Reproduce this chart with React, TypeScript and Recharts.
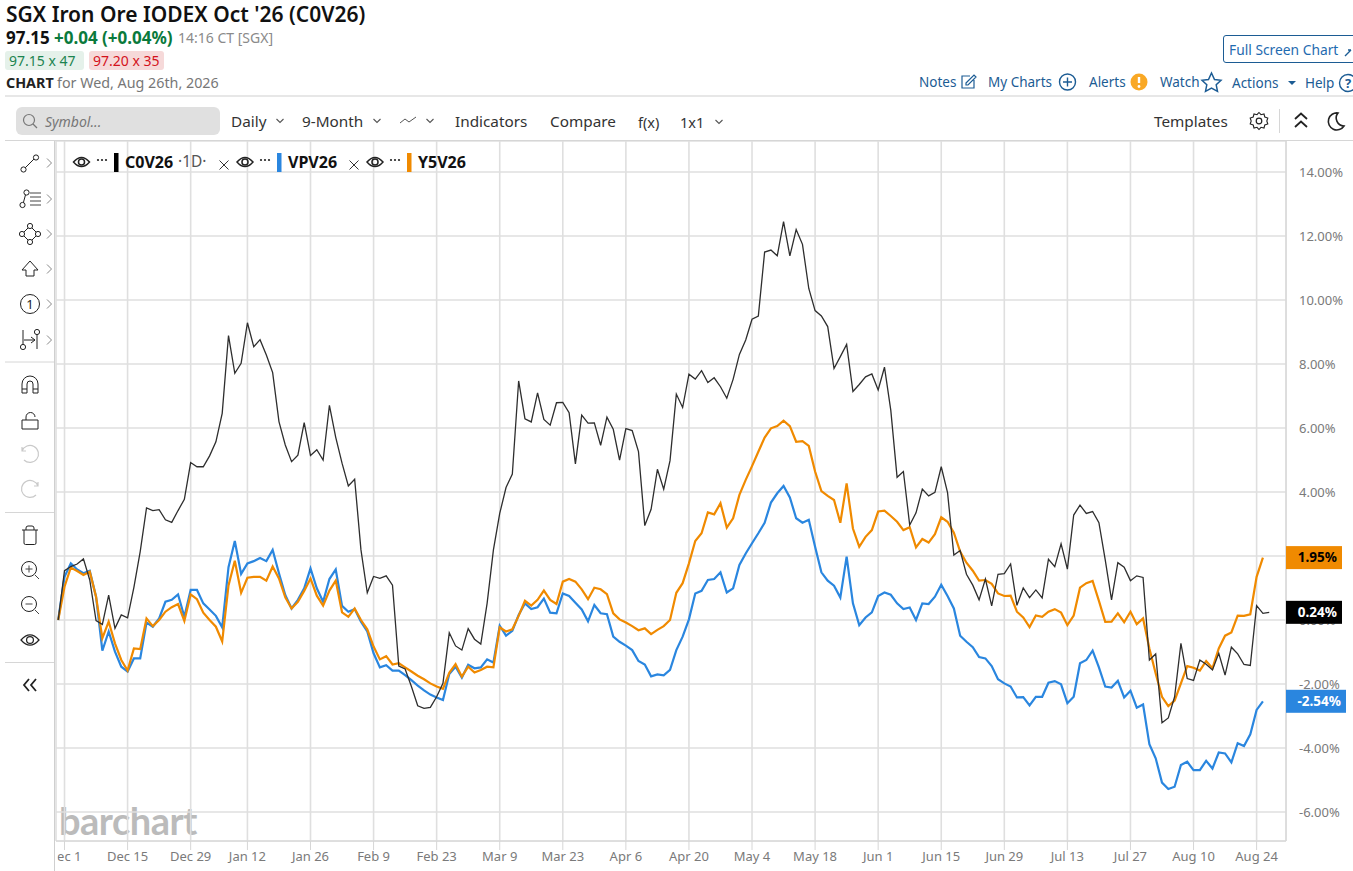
import React from 'react';
import {
  LineChart,
  Line,
  CartesianGrid,
  XAxis,
  YAxis,
  ReferenceLine,
  Label,
} from 'recharts';

const FONT = '"Noto Sans", "Open Sans", sans-serif';

const tickIndexes = [1, 11, 21, 30, 40, 50, 60, 70, 80, 90, 100, 110, 120, 130, 140, 150, 160, 170, 180, 190];
const tickLabels = ['Dec 1', 'Dec 15', 'Dec 29', 'Jan 12', 'Jan 26', 'Feb 9', 'Feb 23', 'Mar 9', 'Mar 23', 'Apr 6', 'Apr 20', 'May 4', 'May 18', 'Jun 1', 'Jun 15', 'Jun 29', 'Jul 13', 'Jul 27', 'Aug 10', 'Aug 24'];
const yTicks = [-6, -4, -2, 0, 2, 4, 6, 8, 10, 12, 14];

const c0v26 = [
  0, 1.54, 1.67, 1.75, 1.91, 1.25, -0.02, -0.14, 0.78, -0.26,
  0.16, 0.07, 1.02, 2.14, 3.5, 3.42, 3.45, 3.13, 3.05, 3.42,
  3.77, 4.92, 4.79, 4.79, 5.13, 5.57, 6.46, 8.89, 7.71, 8.02,
  9.29, 8.54, 8.76, 8.28, 7.73, 6.2, 5.47, 4.95, 5.15, 6.17,
  5.14, 5.32, 5.0, 6.71, 5.71, 4.9, 4.19, 4.4, 2.19, 0.85,
  1.36, 1.3, 1.38, 1.09, -1.44, -1.53, -2.08, -2.68, -2.76, -2.73,
  -2.4, -1.98, -0.4, -0.81, -0.94, -0.27, -0.6, -0.75, 0.52, 2.19,
  3.33, 4.14, 4.56, 7.47, 6.29, 6.19, 7.1, 6.27, 6.09, 6.79,
  6.8, 6.48, 4.88, 6.4, 6.15, 6.16, 5.46, 6.34, 5.96, 5.0,
  5.98, 5.92, 5.26, 2.95, 3.46, 4.71, 4.09, 4.98, 7.06, 6.64,
  7.68, 7.53, 7.79, 7.42, 7.57, 7.29, 6.93, 7.52, 8.3, 8.75,
  9.4, 9.5, 11.5, 11.56, 11.38, 12.45, 11.38, 12.2, 11.74, 10.36,
  9.67, 9.5, 9.17, 7.86, 8.23, 8.61, 7.14, 7.36, 7.6, 7.69,
  7.19, 7.9, 6.56, 4.46, 4.64, 2.97, 3.35, 4.09, 3.88, 3.99,
  4.79, 3.98, 2.03, 2.17, 1.43, 1.09, 0.63, 1.28, 0.44, 1.43,
  1.45, 1.75, 0.46, 1.0, 0.7, 0.94, 0.69, 1.9, 1.67, 2.38,
  1.59, 3.28, 3.59, 3.33, 3.39, 3.04, 1.88, 0.63, 1.79, 1.65,
  1.23, 1.38, 1.33, -1.25, -1.06, -3.21, -3.06, -2.4, -0.73, -1.83,
  -1.89, -1.25, -1.38, -1.56, -1.04, -1.72, -0.85, -1.06, -1.39, -1.42,
  0.45, 0.21, 0.24,
];

const vpv26 = [
  0, 1.35, 1.77, 1.58, 1.46, 1.54, 0.73, -0.96, -0.36, -0.99,
  -1.46, -1.61, -1.2, -1.2, -0.08, -0.21, 0.05, 0.57, 0.63, 0.8,
  0.1, 0.94, 0.94, 0.52, 0.33, 0.13, -0.23, 1.65, 2.47, 1.44,
  1.77, 1.84, 1.94, 1.84, 2.19, 1.46, 0.78, 0.36, 0.63, 0.99,
  1.61, 0.99, 0.57, 1.28, 1.58, 0.44, 0.26, 0.34, -0.05, -0.36,
  -1.04, -1.48, -1.41, -1.58, -1.58, -1.72, -1.88, -2.05, -2.2, -2.33,
  -2.42, -2.5, -1.69, -1.46, -1.8, -1.4, -1.51, -1.48, -1.23, -1.33,
  -0.18, -0.49, -0.34, 0.16, 0.52, 0.34, 0.4, 0.67, 0.23, 0.21,
  0.83, 0.75, 0.54, 0.33, -0.04, 0.47, 0.21, 0.18, -0.52, -0.68,
  -0.8, -0.94, -1.28, -1.39, -1.76, -1.7, -1.73, -1.56, -0.94, -0.52,
  0.02, 0.83, 0.91, 1.25, 1.28, 1.49, 0.86, 0.99, 1.72, 2.08,
  2.4, 2.71, 3.04, 3.67, 3.96, 4.19, 3.83, 3.18, 3.04, 3.13,
  2.29, 1.49, 1.23, 1.07, 0.7, 1.98, 0.52, -0.16, 0.08, 0.24,
  0.75, 0.86, 0.79, 0.52, 0.34, 0.39, 0, 0.52, 0.5, 0.73,
  1.1, 0.75, 0.36, -0.49, -0.68, -0.85, -1.16, -1.2, -1.44, -1.85,
  -1.98, -2.08, -2.42, -2.41, -2.67, -2.4, -2.4, -1.96, -1.91, -2.01,
  -2.6, -2.4, -1.35, -1.25, -0.96, -1.48, -2.08, -2.11, -1.9, -2.42,
  -2.21, -2.74, -2.64, -3.88, -4.32, -5.08, -5.28, -5.21, -4.53, -4.43,
  -4.69, -4.69, -4.4, -4.64, -4.14, -4.17, -4.45, -3.85, -3.94, -3.57,
  -2.81, -2.54,
];

const y5v26 = [
  0, 1.04, 1.64, 1.53, 1.41, 1.51, 0.73, -0.57, -0.05, -0.73,
  -1.25, -1.58, -0.89, -0.91, 0.05, -0.19, 0, 0.26, 0.4, 0.5,
  -0.03, 0.8, 0.65, 0.23, 0, -0.21, -0.67, 1.08, 1.85, 0.85,
  1.32, 1.35, 1.35, 1.23, 1.67, 1.3, 0.71, 0.36, 0.57, 0.91,
  1.3, 0.76, 0.45, 0.92, 1.23, 0.24, 0.1, 0.36, 0, -0.29,
  -0.83, -1.23, -1.13, -1.39, -1.35, -1.48, -1.61, -1.74, -1.85, -1.98,
  -2.08, -2.15, -1.65, -1.38, -1.77, -1.46, -1.64, -1.56, -1.46, -1.48,
  -0.23, -0.36, -0.29, 0.13, 0.6, 0.45, 0.63, 0.92, 0.63, 0.5,
  1.2, 1.28, 1.2, 0.96, 0.65, 1.01, 0.96, 0.81, 0.21, 0.02,
  -0.08, -0.19, -0.32, -0.26, -0.44, -0.31, -0.19, 0, 0.85, 1.15,
  1.77, 2.47, 2.71, 3.36, 3.3, 3.65, 2.89, 3.18, 3.91, 4.38,
  4.81, 5.26, 5.7, 5.99, 6.06, 6.23, 6.06, 5.57, 5.59, 5.44,
  4.64, 4.03, 3.88, 3.75, 3.04, 4.27, 2.86, 2.29, 2.6, 2.81,
  3.39, 3.42, 3.25, 3.07, 2.81, 2.9, 2.27, 2.53, 2.42, 2.68,
  3.21, 3.07, 2.73, 2.14, 1.79, 1.54, 1.23, 1.25, 1.13, 0.83,
  0.75, 0.76, 0.26, 0.08, -0.22, 0.14, 0.1, 0.26, 0.34, 0.23,
  -0.16, 0.14, 1.01, 1.15, 1.22, 0.6, -0.06, -0.05, 0.21, -0.07,
  0.26, -0.13, 0.05, -0.89, -1.67, -2.4, -2.69, -2.52, -1.98, -1.44,
  -1.49, -1.58, -1.28, -1.51, -0.89, -0.49, -0.39, 0.14, 0.13, 0.18,
  1.35, 1.95,
];

const lastBadges = [
  { name: 'y5', value: 1.95, fill: '#f08a00', text: '#000000', width: 56 },
  { name: 'c0', value: 0.24, fill: '#000000', text: '#ffffff', width: 56 },
  { name: 'vp', value: -2.54, fill: '#2a86df', text: '#ffffff', width: 60 },
];

const xDomain = [-0.35, 194.66];
const yDomain = [-6.906, 14.969];

const rows = c0v26.map((c0, i) => ({
  i,
  c0,
  vp: i < vpv26.length ? vpv26[i] : null,
  y5: i < y5v26.length ? y5v26[i] : null,
}));

const ink = '#1c5c94';
const grey = '#7a7a7a';

const T: React.FC<{ x: number; y: number; s?: number; w?: number; c?: string; i?: boolean; children: React.ReactNode }> = ({ x, y, s = 14, w = 400, c = '#333', i, children }) => (
  <div style={{ position: 'absolute', left: x, top: y, transform: 'translateY(-50%)', fontSize: s, fontWeight: w, color: c, fontStyle: i ? 'italic' : 'normal', whiteSpace: 'nowrap', lineHeight: 1 }}>
    {children}
  </div>
);

const Chevron = ({ x, y }: { x: number; y: number }) => (
  <path d={`M${x - 3.5} ${y - 2}l3.5 3.5l3.5 -3.5`} stroke="#555" fill="none" strokeWidth={1.1} />
);
const SideArrow = ({ y }: { y: number }) => (
  <path d={`M47 ${y - 4.5}l4.5 4.5l-4.5 4.5`} stroke="#888" fill="none" strokeWidth={1} />
);
const Eye = ({ x, y, r = 8, sw = 1.5 }: { x: number; y: number; r?: number; sw?: number }) => (
  <g>
    <path d={`M${x - r} ${y}Q${x} ${y - r * 1.15} ${x + r} ${y}Q${x} ${y + r * 1.15} ${x - r} ${y}Z`} fill="none" stroke="#222" strokeWidth={sw} />
    <circle cx={x} cy={y} r={r * 0.38} fill="none" stroke="#222" strokeWidth={sw} />
  </g>
);
const Dots = ({ x, y }: { x: number; y: number }) => (
  <g fill="#222">
    <circle cx={x - 4} cy={y} r={1.1} />
    <circle cx={x} cy={y} r={1.1} />
    <circle cx={x + 4} cy={y} r={1.1} />
  </g>
);
const Cross = ({ x, y }: { x: number; y: number }) => (
  <path d={`M${x - 4.5} ${y - 4.5}l9 9m0 -9l-9 9`} stroke="#333" strokeWidth={1} />
);
const Handle = ({ x, y }: { x: number; y: number }) => <circle cx={x} cy={y} r={2.6} fill="#fff" stroke="#222" strokeWidth={1} />;

const Decor = () => (
  <svg width={1353} height={871} style={{ position: 'absolute', left: 0, top: 0, zIndex: 3, pointerEvents: 'none' }}>
    {/* covers the start of the first date label, as in the source */}
    <rect x={55} y={846} width={2.5} height={25} fill="#fff" />

    {/* header rules */}
    <line x1={5} x2={1353} y1={96} y2={96} stroke="#cfcfcf" />
    <line x1={5} x2={1353} y1={140.5} y2={140.5} stroke="#d6d6d6" />
    <line x1={54.5} x2={54.5} y1={141} y2={871} stroke="#cfcfcf" />
    <line x1={5} x2={54} y1={362} y2={362} stroke="#d6d6d6" />
    <line x1={5} x2={54} y1={512.5} y2={512.5} stroke="#d6d6d6" />
    <line x1={5} x2={54} y1={662.5} y2={662.5} stroke="#d6d6d6" />
    <line x1={1279.5} x2={1279.5} y1={109} y2={133} stroke="#d6d6d6" />

    {/* search + dropdown icons */}
    <circle cx={29} cy={120} r={5.5} fill="none" stroke="#777" strokeWidth={1.2} />
    <line x1={33} x2={37} y1={124} y2={128} stroke="#777" strokeWidth={1.2} />
    <Chevron x={280} y={121} />
    <Chevron x={377} y={121} />
    <path d="M400 123l5 -4l4 3l7 -5" stroke="#555" fill="none" />
    <Chevron x={430} y={121} />
    <Chevron x={719} y={122} />

    {/* top right icons */}
    <path d="M974 80v8h-12v-12h8M966 83l8 -8l2 2l-8 8h-2z" fill="none" stroke={ink} strokeWidth={1.2} />
    <circle cx={1067.5} cy={82} r={8} fill="none" stroke={ink} strokeWidth={1.4} />
    <path d="M1063 82h9M1067.5 77.5v9" stroke={ink} strokeWidth={1.4} />
    <circle cx={1139} cy={82} r={8.5} fill="#f9a825" />
    <path d="M1139 77v6" stroke="#fff" strokeWidth={2.4} />
    <circle cx={1139} cy={86.5} r={1.4} fill="#fff" />
    <path d="M1211.5 73l3 6.5l6.5 .8l-4.8 4.5l1.3 6.6l-6 -3.3l-6 3.3l1.3 -6.6l-4.8 -4.5l6.5 -.8z" fill="none" stroke={ink} strokeWidth={1.5} />
    <path d="M1288 81h8l-4 4z" fill={ink} />
    <circle cx={1348} cy={83} r={8.5} fill="none" stroke={ink} strokeWidth={1.4} />
    <text x={1348} y={88} textAnchor="middle" fontSize={13} fontWeight={700} fontFamily={FONT} fill={ink}>?</text>
    <path d="M1345 56l6 -6M1351 50h-3" stroke={ink} strokeWidth={1.4} fill="none" />

    {/* gear, double chevron, moon */}
    <circle cx={1259} cy={121} r={2.8} fill="none" stroke="#222" strokeWidth={1.2} />
    <path d="M1259 112.5l2 2.2l3 -.7l.8 3l3 1l-1 3l1 3l-3 1l-.8 3l-3 -.7l-2 2.2l-2 -2.2l-3 .7l-.8 -3l-3 -1l1 -3l-1 -3l3 -1l.8 -3l3 .7z" fill="none" stroke="#222" strokeWidth={1.1} />
    <path d="M1295 119l6 -5.5l6 5.5M1295 127l6 -5.5l6 5.5" fill="none" stroke="#222" strokeWidth={1.8} />
    <path d="M1338 113a8.5 8.5 0 1 0 6 13a8 8 0 0 1 -6 -13z" fill="none" stroke="#222" strokeWidth={1.6} />

    {/* left toolbar */}
    <path d="M24 169l11 -11" stroke="#222" />
    <Handle x={23.5} y={169.5} />
    <Handle x={36} y={157.5} />
    <SideArrow y={163} />
    <path d="M23 204l3 -11" stroke="#222" />
    <Handle x={22.5} y={205} />
    <Handle x={26.5} y={192.5} />
    <path d="M30 193h11M30 197h11M30 201h11M30 205h11" stroke="#444" />
    <SideArrow y={199} />
    <path d="M22 234l8 -8l8 8l-8 8z" fill="none" stroke="#222" />
    <Handle x={22} y={234} />
    <Handle x={30} y={226} />
    <Handle x={38} y={234} />
    <Handle x={30} y={242} />
    <SideArrow y={234} />
    <path d="M30 261l8 9h-4v6h-8v-6h-4z" fill="none" stroke="#222" />
    <SideArrow y={269} />
    <circle cx={30} cy={304} r={9.5} fill="none" stroke="#222" />
    <text x={30} y={309} textAnchor="middle" fontSize={13} fontFamily={FONT} fill="#222">1</text>
    <SideArrow y={304} />
    <path d="M23 330v16M37 334v15M24 340h11M31 337l4 3l-4 3" fill="none" stroke="#222" />
    <Handle x={23} y={347} />
    <Handle x={37} y={332} />
    <SideArrow y={340} />
    <path d="M22 393v-9a8 8 0 0 1 16 0v9h-5v-9a3 3 0 0 0 -6 0v9zM22 389h5M33 389h5" fill="none" stroke="#222" />
    <path d="M22 420h16v9h-16zM26 420v-3a4.5 4.5 0 0 1 9 0" fill="none" stroke="#222" />
    <path d="M22 451a8.5 8.5 0 1 1 2 9M22 447v4h4" fill="none" stroke="#c9c9c9" strokeWidth={1.2} />
    <path d="M38 486a8.5 8.5 0 1 0 -2 9M38 482v4h-4" fill="none" stroke="#c9c9c9" strokeWidth={1.2} />
    <path d="M22 530h16M24 530v13a1.5 1.5 0 0 0 1.5 1.5h9a1.5 1.5 0 0 0 1.5 -1.5v-13M26 530v-2a2 2 0 0 1 2 -2h4a2 2 0 0 1 2 2v2" fill="none" stroke="#222" />
    <circle cx={29} cy={569} r={7.5} fill="none" stroke="#222" />
    <path d="M25.5 569h7M29 565.5v7M35 575l4 4" stroke="#444" />
    <circle cx={29} cy={604} r={7.5} fill="none" stroke="#222" />
    <path d="M25.5 604h7M35 610l4 4" stroke="#444" />
    <Eye x={30} y={640} r={9} sw={1.2} />
    <path d="M29 679l-5 6l5 6M36 679l-5 6l5 6" fill="none" stroke="#222" strokeWidth={1.8} />

    {/* legend icons */}
    <Eye x={81.5} y={162} />
    <Dots x={102} y={160} />
    <rect x={114} y={153} width={4.5} height={19} fill="#000" />
    <Cross x={224} y={165} />
    <Eye x={245} y={162} />
    <Dots x={265} y={160} />
    <rect x={277} y={153} width={4.5} height={19} fill="#2a86df" />
    <Cross x={354} y={165} />
    <Eye x={375} y={162} />
    <Dots x={395} y={160} />
    <rect x={407} y={153} width={4.5} height={19} fill="#f08a00" />
  </svg>
);

const renderBadge = (fill: string, text: string, width: number, value: number) => (props: any) => {
  const { viewBox } = props;
  const x = viewBox.x + viewBox.width;
  const y = viewBox.y;
  return (
    <g>
      <rect x={x} y={y - 11.5} width={width} height={23} fill={fill} />
      <text x={x + width - 5} y={y + 4.5} textAnchor="end" fontSize={13.5} fontWeight={700} fill={text} fontFamily={FONT}>
        {value.toFixed(2)}%
      </text>
    </g>
  );
};

export default function App() {
  return (
    <div style={{ position: 'absolute', left: 0, top: 0, width: 1353, height: 871, overflow: 'hidden', background: '#fff', fontFamily: FONT }}>
      {/* quote header */}
      <T x={6} y={14} s={21} w={600} c="#111">SGX Iron Ore IODEX Oct '26 (C0V26)</T>
      <T x={6} y={37} s={17} w={700} c="#111">97.15</T>
      <T x={54} y={37} s={17} w={700} c="#0a7a3c">+0.04 (+0.04%)</T>
      <T x={178} y={38} s={14} c="#8a8a8a">14:16 CT [SGX]</T>
      <div style={{ position: 'absolute', left: 5, top: 51, width: 79, height: 19, background: '#e5f1ea', borderRadius: 3 }} />
      <div style={{ position: 'absolute', left: 89, top: 51, width: 75, height: 19, background: '#f6d9d9', borderRadius: 3 }} />
      <T x={9} y={61} s={14} c="#1c8450">97.15 x 47</T>
      <T x={93} y={61} s={14} c="#d3131c">97.20 x 35</T>
      <T x={6} y={83} s={14.3} w={700} c="#222">CHART</T>
      <T x={57} y={83} s={14.3} c="#777">for Wed, Aug 26th, 2026</T>

      {/* top right links */}
      <div style={{ position: 'absolute', left: 1223, top: 35, width: 140, height: 26, border: '1.2px solid #1c5c94', borderRadius: 3 }} />
      <T x={1229} y={50} s={13.8} c="#1f6bb0">Full Screen Chart</T>
      <T x={919} y={83} s={13.5} c={ink}>Notes</T>
      <T x={988} y={83} s={13.5} c={ink}>My Charts</T>
      <T x={1089} y={83} s={13.5} c={ink}>Alerts</T>
      <T x={1160} y={83} s={13.5} c={ink}>Watch</T>
      <T x={1232} y={84} s={13.5} c={ink}>Actions</T>
      <T x={1305} y={84} s={13.5} c={ink}>Help</T>

      {/* toolbar */}
      <div style={{ position: 'absolute', left: 16, top: 107, width: 204, height: 28, background: '#e0e0e0', borderRadius: 6 }} />
      <T x={45} y={122} s={14} c="#777" i>Symbol...</T>
      <T x={231} y={122} s={15.3}>Daily</T>
      <T x={302} y={122} s={15.3}>9-Month</T>
      <T x={455} y={122} s={15.3}>Indicators</T>
      <T x={550} y={122} s={15.3}>Compare</T>
      <T x={638} y={122} s={14.5}>f(x)</T>
      <T x={680} y={122} s={14.5}>1x1</T>
      <T x={1154} y={122} s={15.3}>Templates</T>

      {/* watermark sits behind the chart */}
      <div style={{ position: 'absolute', left: 59, top: 801, fontFamily: 'Lato, sans-serif', fontSize: 38, fontWeight: 700, color: '#bbbbbb', lineHeight: 1, letterSpacing: -0.5 }}>
        barchart
      </div>

      <div style={{ position: 'absolute', left: 55, top: 141, width: 1298, height: 730, overflow: 'hidden', zIndex: 1 }}>
        <LineChart width={1298} height={730} data={rows} margin={{ top: 0, right: 0, bottom: 0, left: 1 }}>
          <CartesianGrid stroke="#dfdfdf" strokeWidth={1.6} />
          <XAxis
            dataKey="i"
            type="number"
            domain={xDomain}
            allowDataOverflow
            ticks={tickIndexes}
            interval={0}
            height={30}
            stroke="#d6d6d6"
            tickSize={9}
            tickMargin={2}
            tickFormatter={(v: number) => tickLabels[tickIndexes.indexOf(v)]}
            tick={{ fill: grey, fontSize: 13, fontFamily: FONT }}
          />
          <YAxis
            orientation="right"
            type="number"
            domain={yDomain}
            allowDataOverflow
            ticks={yTicks}
            interval={0}
            width={67}
            stroke="#d6d6d6"
            tickLine={false}
            tickSize={0}
            tickMargin={13}
            tickFormatter={(v: number) => `${v.toFixed(2)}%`}
            tick={{ fill: grey, fontSize: 13, fontFamily: FONT }}
          />
          <Line dataKey="vp" name="VPV26" type="linear" stroke="#2a86df" strokeWidth={2.2} dot={false} isAnimationActive={false} />
          <Line dataKey="y5" name="Y5V26" type="linear" stroke="#f08a00" strokeWidth={2.2} dot={false} isAnimationActive={false} />
          <Line dataKey="c0" name="C0V26" type="linear" stroke="#2e2e2e" strokeWidth={1.3} dot={false} isAnimationActive={false} />
        </LineChart>
      </div>

      {/* last-value badges have to cover the axis ticks, so they get their own chart on top */}
      <div style={{ position: 'absolute', left: 55, top: 141, width: 1298, height: 730, zIndex: 2 }}>
        <LineChart width={1298} height={730} data={rows} margin={{ top: 0, right: 67, bottom: 30, left: 1 }}>
          <XAxis dataKey="i" type="number" domain={xDomain} allowDataOverflow hide />
          <YAxis type="number" domain={yDomain} allowDataOverflow hide />
          {lastBadges.map((b) => (
            <ReferenceLine key={b.name} y={b.value} stroke="none">
              <Label content={renderBadge(b.fill, b.text, b.width, b.value)} />
            </ReferenceLine>
          ))}
        </LineChart>
      </div>

      {/* legend row */}
      <div style={{ zIndex: 2, position: 'absolute', left: 0, top: 0 }}>
        <T x={125} y={162} s={16} w={700} c="#111">C0V26</T>
        <T x={178} y={162} s={15.5} c="#555">·1D·</T>
        <T x={288} y={162} s={16} w={700} c="#111">VPV26</T>
        <T x={418} y={162} s={16} w={700} c="#111">Y5V26</T>
      </div>
      <Decor />
    </div>
  );
}
